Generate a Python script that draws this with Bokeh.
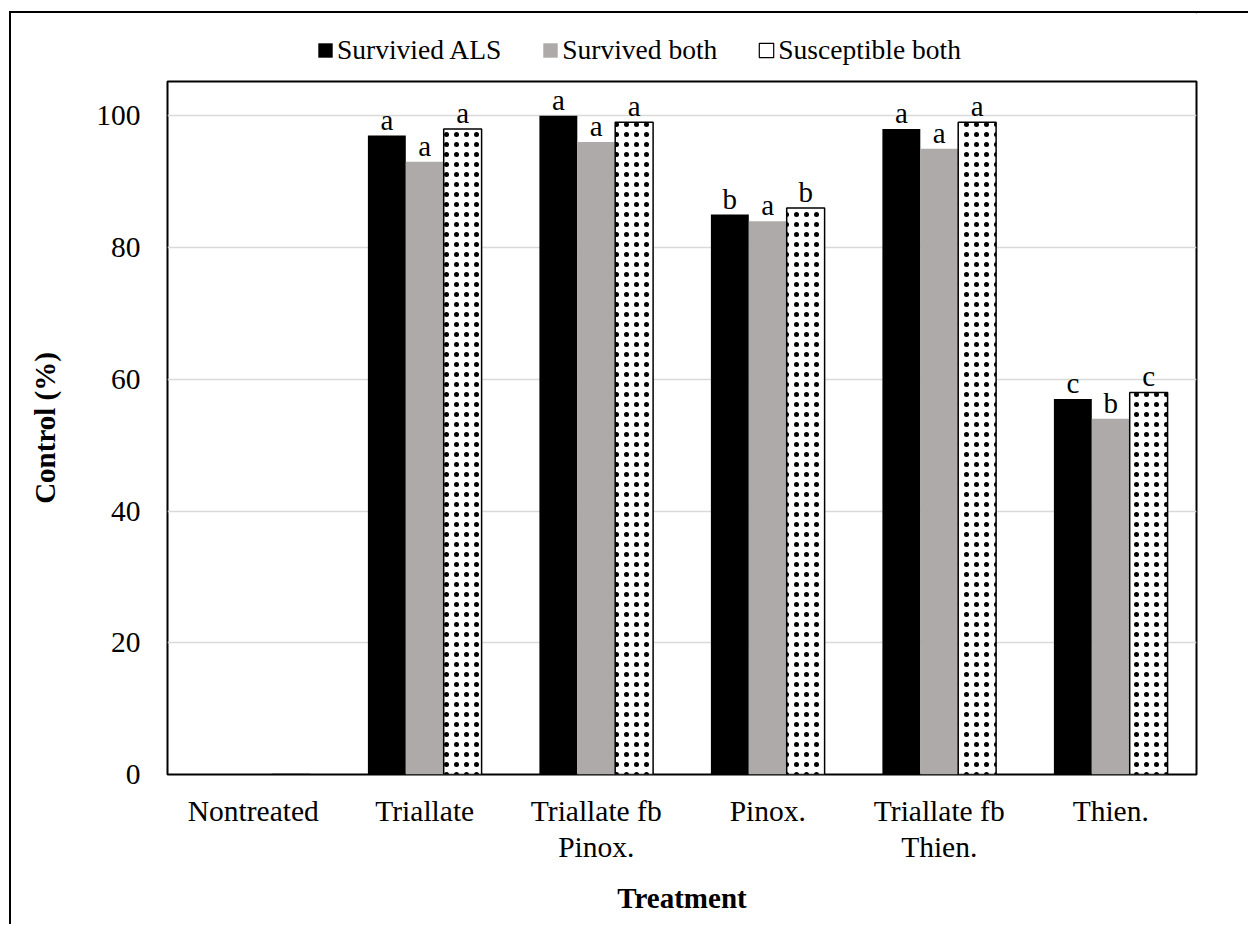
from bokeh.plotting import figure
from bokeh.layouts import column
from bokeh.models import (ColumnDataSource, Legend, LegendItem, FactorRange, CategoricalAxis,
                          Range1d, CDSView, IndexFilter)
from bokeh.transform import dodge
from bokeh.core.properties import value
from bokeh.embed import file_html
from bokeh.resources import INLINE

# ---- data ----
treatments = ["Nontreated", "Triallate", "Triallate fb Pinox.", "Pinox.", "Triallate fb Thien.", "Thien."]
tick_line1 = ["Nontreated", "Triallate", "Triallate fb", "Pinox.", "Triallate fb\u200b", "Thien."]
tick_line2 = ["\u200b", "\u200b\u200b", "Pinox.", "\u200b\u200b\u200b", "Thien.", "\u200b\u200b\u200b\u200b"]
series_names = ["Survivied ALS", "Survived both", "Susceptible both"]
survived_als = [0, 97, 100, 85, 98, 57]
survived_both = [0, 93, 96, 84, 95, 54]
susceptible_both = [0, 98, 99, 86, 99, 58]
letters_als = ["", "a", "a", "b", "a", "c"]
letters_both = ["", "a", "a", "a", "a", "b"]
letters_susc = ["", "a", "a", "b", "a", "c"]
y_ticks = [0, 20, 40, 60, 80, 100]

FONT = "Liberation Serif"
BLACK, GRAY, WHITE = "black", "#AEAAAA", "white"

src = ColumnDataSource(dict(
    cat=treatments,
    als=survived_als, both=survived_both, susc=susceptible_both,
    l_als=letters_als, l_both=letters_both, l_susc=letters_susc,
))

# ---------------- main chart ----------------
p = figure(
    x_range=FactorRange(*treatments), y_range=(0, 105.2),
    frame_width=1029, frame_height=693, x_axis_location=None,
    min_border_left=156, min_border_top=2, min_border_right=52, min_border_bottom=150,
    output_backend="svg", toolbar_location=None,
    background_fill_color="white", border_fill_color="white",
)
p.outline_line_color = "black"
p.outline_line_width = 2
p.extra_x_ranges = {"line1": FactorRange(*tick_line1), "line2": FactorRange(*tick_line2)}

bw = 0.221
p.vbar(x=dodge("cat", -bw, range=p.x_range), top="als", width=bw, source=src,
       fill_color=BLACK, line_color=None)
p.vbar(x=dodge("cat", 0, range=p.x_range), top="both", width=bw, source=src,
       fill_color=GRAY, line_color=None)
p.vbar(x=dodge("cat", bw, range=p.x_range), top="susc", width=bw, source=src,
       fill_color=WHITE, line_color="black", line_width=1.5,
       hatch_pattern="dot", hatch_color="black", hatch_scale=10, hatch_weight=1)

for col, lab, off in [("als", "l_als", -bw), ("both", "l_both", 0), ("susc", "l_susc", bw)]:
    letters = src.data[lab]
    view = CDSView(filter=IndexFilter([i for i, s in enumerate(letters) if s]))
    p.text(x=dodge("cat", off, range=p.x_range), y=col, text=lab, source=src, view=view,
           text_font=value(FONT), text_font_size="29px", text_color="black",
           text_align="center", text_baseline="bottom")

p.xgrid.grid_line_color = None
p.ygrid.grid_line_color = "#D9D9D9"
p.ygrid.grid_line_width = 1.5

p.yaxis.ticker = y_ticks
p.yaxis.axis_line_color = None
p.yaxis.major_tick_line_color = None
p.yaxis.minor_tick_line_color = None
p.yaxis.major_tick_out = 0
p.yaxis.major_tick_in = 0
p.yaxis.major_label_standoff = 27
p.yaxis.major_label_text_font = FONT
p.yaxis.major_label_text_font_size = "29.5px"
p.yaxis.major_label_text_color = "black"
p.yaxis.axis_label = "Control (%)"
p.yaxis.axis_label_text_font = FONT
p.yaxis.axis_label_text_font_style = "bold"
p.yaxis.axis_label_text_font_size = "29px"
p.yaxis.axis_label_text_color = "black"
p.yaxis.axis_label_standoff = 32


def make_x_axis(range_name, standoff):
    ax = CategoricalAxis(x_range_name=range_name)
    ax.axis_line_color = None
    ax.major_tick_line_color = None
    ax.minor_tick_line_color = None
    ax.major_tick_out = 0
    ax.major_tick_in = 0
    ax.major_label_standoff = standoff
    ax.major_label_text_font = FONT
    ax.major_label_text_font_size = "29.5px"
    ax.major_label_text_color = "black"
    return ax


ax1 = make_x_axis("line1", 20)
p.add_layout(ax1, "below")

ax2 = make_x_axis("line2", 1)
ax2.axis_label = "Treatment"
ax2.axis_label_text_font = FONT
ax2.axis_label_text_font_style = "bold"
ax2.axis_label_text_font_size = "29px"
ax2.axis_label_text_color = "black"
ax2.axis_label_standoff = 16
p.add_layout(ax2, "below")

# ---------------- legend strip ----------------
lf = figure(width=1237, height=66, x_range=Range1d(0, 1), y_range=Range1d(0, 1),
            x_axis_type=None, y_axis_type=None, min_border=0,
            output_backend="svg", toolbar_location=None,
            background_fill_color="white", border_fill_color="white")
lf.outline_line_color = None
lf.xgrid.visible = False
lf.ygrid.visible = False
# legend proxies: one point each, outside the strip's visible range
g1 = lf.vbar(x=[5], top=[5], bottom=[4], width=0.1, fill_color=BLACK, line_color=None)
g2 = lf.vbar(x=[5], top=[5], bottom=[4], width=0.1, fill_color=GRAY, line_color=None)
g3 = lf.vbar(x=[5], top=[5], bottom=[4], width=0.1, fill_color=WHITE, line_color="black", line_width=1.2)

legend = Legend(
    items=[LegendItem(label=series_names[0], renderers=[g1]),
           LegendItem(label=series_names[1], renderers=[g2]),
           LegendItem(label=series_names[2], renderers=[g3])],
    orientation="horizontal", location=(149, 13),
    glyph_width=18, glyph_height=18, label_standoff=3, spacing=40,
    label_text_font=FONT, label_text_font_size="27.5px", label_text_color="black",
    padding=0, margin=0, border_line_color=None, background_fill_alpha=0,
)
lf.add_layout(legend, "center")

layout = column(lf, p, spacing=0)
layout.margin = (11, 0, 0, 9)
layout.styles = {"border-left": "2px solid black", "border-top": "2px solid black"}

open("out.html", "w").write(file_html(layout, INLINE))
